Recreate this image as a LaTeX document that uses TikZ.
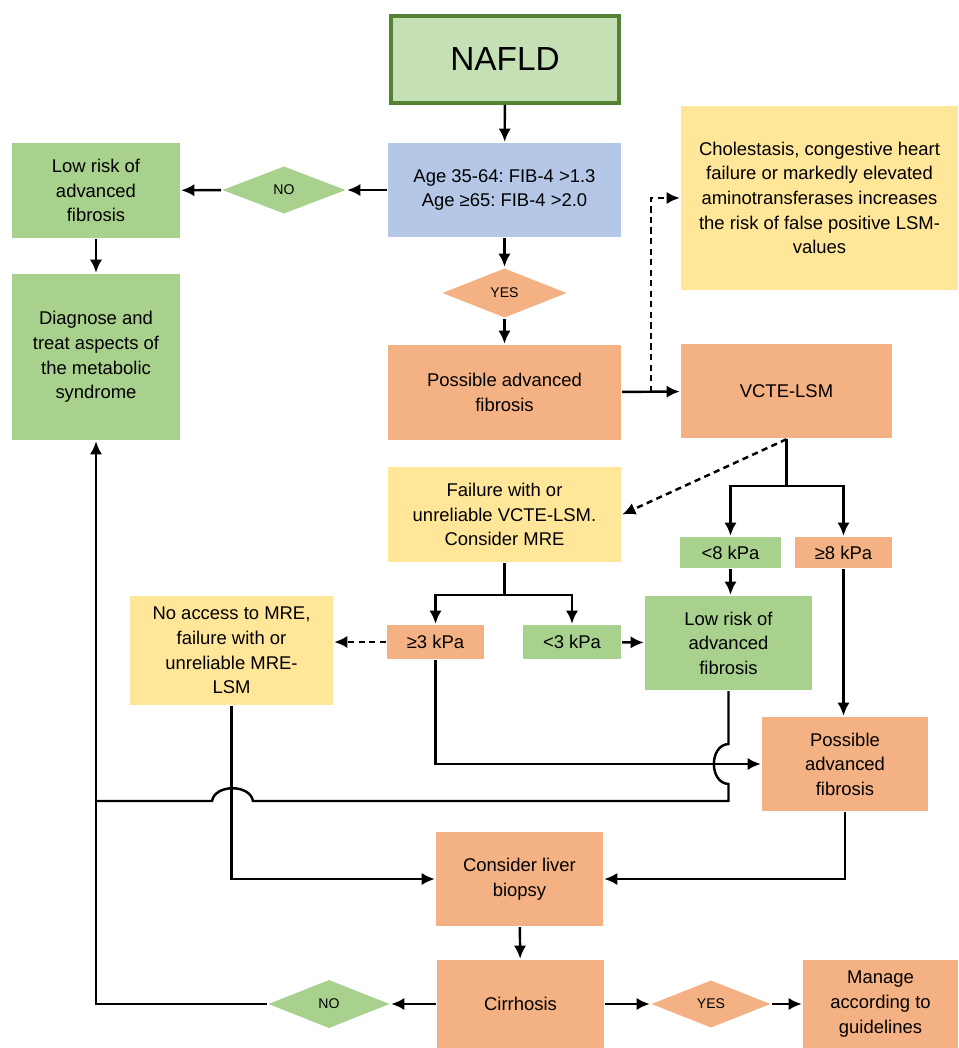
\documentclass[tikz,border=0pt]{standalone}
\usepackage{fontspec}
\setmainfont{Liberation Sans}
\frenchspacing
\usetikzlibrary{arrows.meta, shapes.geometric, positioning, calc}
\definecolor{startgreen}{HTML}{C5E0B4}
\definecolor{startborder}{HTML}{548235}
\definecolor{okgreen}{HTML}{A9D18E}
\definecolor{riskorange}{HTML}{F4B183}
\definecolor{noteyellow}{HTML}{FFE699}
\definecolor{fibblue}{HTML}{B4C7E7}

\begin{document}
\begin{tikzpicture}[
            x=0.02cm, y=-0.02cm,
            >={Latex[length=7.5pt,width=7pt]},
            line width=1.4pt,
            box/.style={rectangle, align=center, inner sep=2pt,
                font=\fontsize{10.5}{14}\selectfont},
            greenbox/.style={box, fill=okgreen},
            orangebox/.style={box, fill=riskorange},
            yellowbox/.style={box, fill=noteyellow},
            bluebox/.style={box, fill=fibblue},
            decision/.style={diamond, inner sep=0pt,
                font=\fontsize{8}{10}\selectfont},
            dashedline/.style={dash pattern=on 3.5pt off 2.5pt}]
            \useasboundingbox (0,0) rectangle (958,1048);

            \node [rectangle, fill=startgreen, draw=startborder, line width=2.2pt,
                   minimum width=4.56cm, minimum height=1.74cm,
                   font=\fontsize{19}{23}\selectfont] (nafld) at (505,59.5) {NAFLD};
            \node [bluebox, minimum width=4.66cm, minimum height=1.88cm] (fib) at (504.5,190)
                {Age 35-64: FIB-4 >1.3\\Age ≥65: FIB-4 >2.0};
            \node [decision, fill=okgreen, minimum width=2.48cm, minimum height=0.96cm] (no1) at (284,190) {NO};
            \node [greenbox, minimum width=3.36cm, minimum height=1.9cm] (low1) at (96,190.5)
                {Low risk of\\advanced\\fibrosis};
            \node [greenbox, minimum width=3.36cm, minimum height=3.32cm] (diag) at (96,357)
                {Diagnose and\\treat aspects of\\the metabolic\\syndrome};
            \node [decision, fill=riskorange, minimum width=2.5cm, minimum height=1cm] (yes1) at (504.5,293) {YES};
            \node [orangebox, minimum width=4.66cm, minimum height=1.9cm] (poss1) at (504.5,392.5)
                {Possible advanced\\fibrosis};
            \node [yellowbox, minimum width=5.54cm, minimum height=3.68cm] (note) at (819.5,198)
                {Cholestasis, congestive heart\\failure or markedly elevated\\aminotransferases increases\\the risk of false positive LSM-\\values};
            \node [orangebox, minimum width=4.22cm, minimum height=1.88cm] (vcte) at (786.5,391) {VCTE-LSM};
            \node [yellowbox, minimum width=4.66cm, minimum height=1.9cm] (fail) at (504.5,514.5)
                {Failure with or\\unreliable VCTE-LSM.\\Consider MRE};
            \node [greenbox, minimum width=2.02cm, minimum height=0.62cm] (lt8) at (730.5,552.5) {<8 kPa};
            \node [orangebox, minimum width=1.94cm, minimum height=0.62cm] (ge8) at (843.5,552.5) {≥8 kPa};
            \node [greenbox, minimum width=3.34cm, minimum height=1.88cm] (lowm) at (728.5,643)
                {Low risk of\\advanced\\fibrosis};
            \node [orangebox, minimum width=1.94cm, minimum height=0.68cm] (ge3) at (435.5,642) {≥3 kPa};
            \node [greenbox, minimum width=1.96cm, minimum height=0.68cm] (lt3) at (572,642) {<3 kPa};
            \node [yellowbox, minimum width=4.06cm, minimum height=2.18cm] (noacc) at (231.5,650.5)
                {No access to MRE,\\failure with or\\unreliable MRE-\\LSM};
            \node [orangebox, minimum width=3.32cm, minimum height=1.88cm] (poss2) at (845,764)
                {Possible\\advanced\\fibrosis};
            \node [orangebox, minimum width=3.34cm, minimum height=1.88cm] (biop) at (519.5,879)
                {Consider liver\\biopsy};
            \node [orangebox, minimum width=3.34cm, minimum height=1.76cm] (cirr) at (520.5,1004) {Cirrhosis};
            \node [decision, fill=okgreen, minimum width=2.44cm, minimum height=0.98cm] (no2) at (329,1004) {NO};
            \node [decision, fill=riskorange, minimum width=2.4cm, minimum height=0.96cm] (yes2) at (711,1004) {YES};
            \node [orangebox, minimum width=3.1cm, minimum height=1.76cm] (manage) at (880.5,1004)
                {Manage\\according to\\guidelines};

            \coordinate (noteturn) at ($(poss1.east)!0.5!(vcte.west)$);
            \coordinate (vctesplit) at (786.5,486);
            \coordinate (mresplit) at (504.5,595);
            \coordinate (backjoin) at (96,801);
            \coordinate (lowturn) at (728.5,801);

            \draw [->] (nafld) -- (fib);
            \draw [->] (fib) -- (no1);
            \draw [->] (no1) -- (low1);
            \draw [->] (low1) -- (diag);
            \draw [->] (fib) -- (yes1);
            \draw [->] (yes1) -- (poss1);
            \draw [->] (poss1) -- (vcte);
            \draw [->, dashedline] (noteturn) |- (note.west);
            \draw [->] (vcte.south) -- (vctesplit) -| (lt8.north);
            \draw [->] (vctesplit) -| (ge8.north);
            \draw [->, dashedline] (vcte.south) -- (fail.east);
            \draw [->] (lt8.south) -- (lt8.south |- lowm.north);
            \draw [->] (fail.south) -- (mresplit) -| (ge3.north);
            \draw [->] (mresplit) -| (lt3.north);
            \draw [->] (lt3) -- (lowm);
            \draw [->, dashedline] (ge3.west) -- (ge3.west -| noacc.east);
            \draw [->] (ge3.south) |- (poss2.west);
            \draw (lowm.south) -- (728.5,744) .. controls (709,745) and (709,783) .. (728.5,784)
                -- (lowturn) -- (253,801) .. controls (250,784) and (215,784) .. (212,801) -- (backjoin);
            \draw [->] (ge8.south) -- (ge8.south |- poss2.north);
            \draw [->] (poss2.south) |- (biop.east);
            \draw [->] (noacc.south) |- (biop.west);
            \draw [->] (biop) -- (cirr);
            \draw [->] (cirr) -- (no2);
            \draw [->] (no2.west) -| (diag.south);
            \draw [->] (cirr) -- (yes2);
            \draw [->] (yes2) -- (manage);
        \end{tikzpicture}
\end{document}
